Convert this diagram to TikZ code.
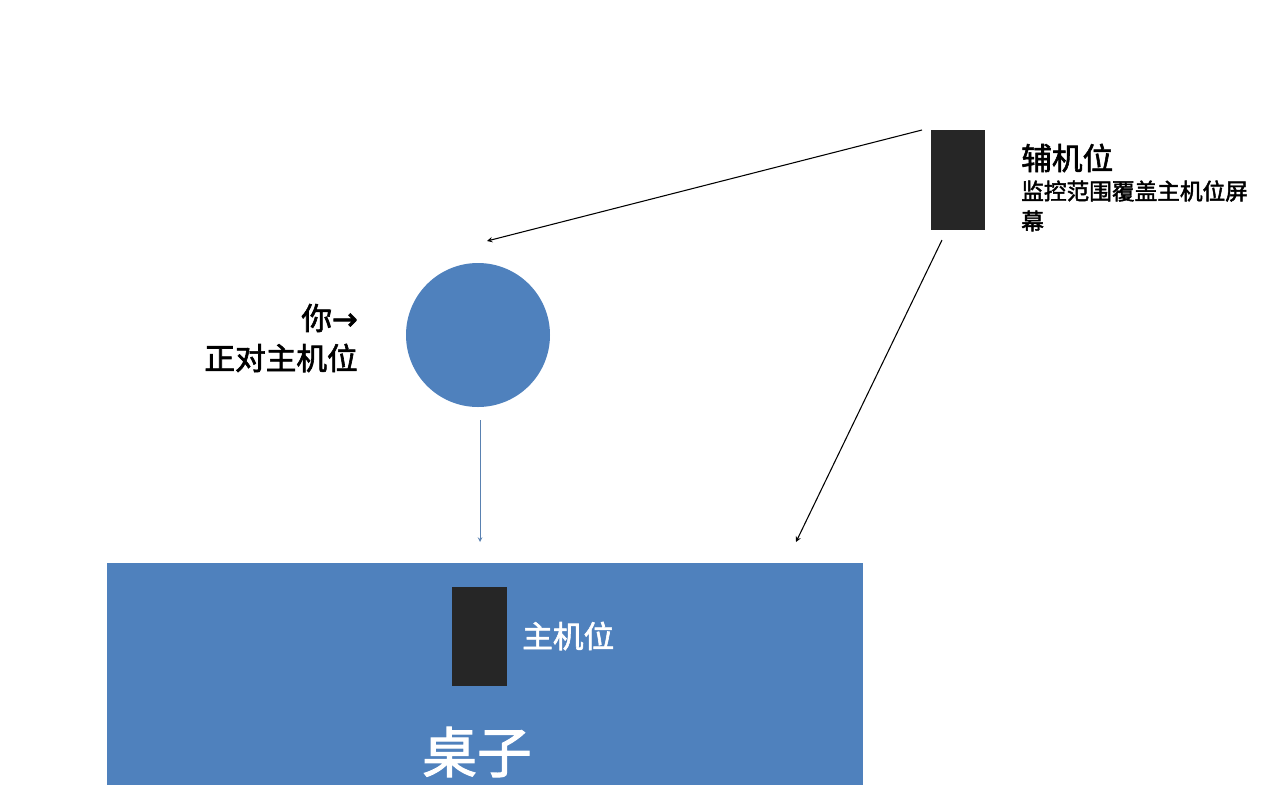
\documentclass[tikz,border=0pt]{standalone}
\usepackage{fontspec}
\newfontfamily\cjk{Noto Sans CJK SC}[FakeBold=2]
\newfontfamily\sym{DejaVu Sans}[FakeBold=2]
\definecolor{tblue}{HTML}{4F81BD}
\definecolor{cam}{HTML}{262626}
\tikzset{camera/.style={fill=cam,draw=none},
lab/.style={font=\cjk\fontsize{23}{26}\selectfont,inner sep=0pt},
arr/.style={-stealth,line width=0.8pt,black}}
\begin{document}
\begin{tikzpicture}[x=0.75pt,y=-0.75pt]
\useasboundingbox[fill=white] (0,0) rectangle (1282,811);
\node[fill=tblue,minimum width=756*0.75pt,minimum height=222*0.75pt,inner sep=0pt,anchor=north west] (table) at (107,563) {};
\node[camera,minimum width=55*0.75pt,minimum height=99*0.75pt,inner sep=0pt,anchor=north west] (main) at (452,587) {};
\node[lab,white,anchor=west] (mainlab) at (522,636) {主机位};
\node[lab,white,font=\cjk\fontsize{41}{44}\selectfont] (tablelab) at (477,752) {桌子};
\node[circle,fill=tblue,minimum size=144*0.75pt,inner sep=0pt] (you) at (478,335) {};
\node[lab,anchor=east] (youlab1) at (358,318) {你\sym →};
\node[lab,anchor=east] (youlab2) at (358,358) {正对主机位};
\node[camera,minimum width=54*0.75pt,minimum height=100*0.75pt,inner sep=0pt,anchor=north west] (aux) at (931,130) {};
\node[lab,anchor=west] (auxlab) at (1021,158) {辅机位};
\node[lab,anchor=west,font=\cjk\fontsize{17}{20}\selectfont] (auxd1) at (1021,191) {监控范围覆盖主机位屏};
\node[lab,anchor=west,font=\cjk\fontsize{17}{20}\selectfont] (auxd2) at (1021,221) {幕};
\coordinate (a1s) at (922,130);
\coordinate (a1e) at (487,241);
\coordinate (a2s) at (942,240);
\coordinate (a2e) at (796,542);
\coordinate (a3s) at (480,420);
\coordinate (a3e) at (480,542);
\draw[arr] (a1s) -- (a1e);
\draw[arr] (a2s) -- (a2e);
\draw[arr,draw=tblue!80!gray,line width=0.6pt] (a3s) -- (a3e);
\end{tikzpicture}
\end{document}
